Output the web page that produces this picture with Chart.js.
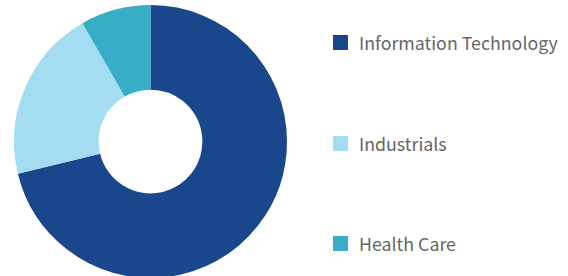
<!DOCTYPE html>
<html>
<head>
<meta charset="utf-8">
<script src="https://cdn.jsdelivr.net/npm/chart.js@4"></script>
<style>
  html, body { margin: 0; padding: 0; width: 568px; height: 276px; overflow: hidden; background: #fff; }
  #chart-box { position: absolute; left: 14px; top: 5px; width: 273px; height: 273px; }
  #legend { position: absolute; left: 333px; top: 0; }
  .item { position: absolute; left: 0; white-space: nowrap; font-family: "Noto Sans CJK JP", "Noto Sans", sans-serif; font-size: 17.8px; line-height: 15px; color: #666; }
  .item span.box { position: absolute; left: 0; top: 0; width: 15px; height: 15px; }
  .item span.txt { position: absolute; left: 26px; top: 0; }
</style>
</head>
<body>
<div id="chart-box"><canvas id="sectorChart"></canvas></div>
<div id="legend"></div>
<script>
// data
const sectors = ["Information Technology", "Industrials", "Health Care"];
const weights = [71.2, 20.5, 8.3];
const colors = ["#1a478c", "#a4dcf1", "#37aec6"];

// legend (html)
const legend = document.getElementById("legend");
const legendTops = [35, 136, 236];
sectors.forEach(function (name, i) {
  const item = document.createElement("div");
  item.className = "item";
  item.style.top = legendTops[i] + "px";
  item.innerHTML = '<span class="box" style="background:' + colors[i] + '"></span><span class="txt">' + name + "</span>";
  legend.appendChild(item);
});

// chart
const ctx = document.getElementById("sectorChart");
const sectorChart = new Chart(ctx, {
  type: "doughnut",
  data: {
    labels: sectors,
    datasets: [
      {
        data: weights,
        backgroundColor: colors,
        borderWidth: 0,
      },
    ],
  },
  options: {
    responsive: true,
    maintainAspectRatio: false,
    animation: false,
    cutout: "38%",
    layout: { padding: 0 },
    plugins: {
      legend: { display: false },
      tooltip: { enabled: false },
    },
  },
});
</script>
</body>
</html>
